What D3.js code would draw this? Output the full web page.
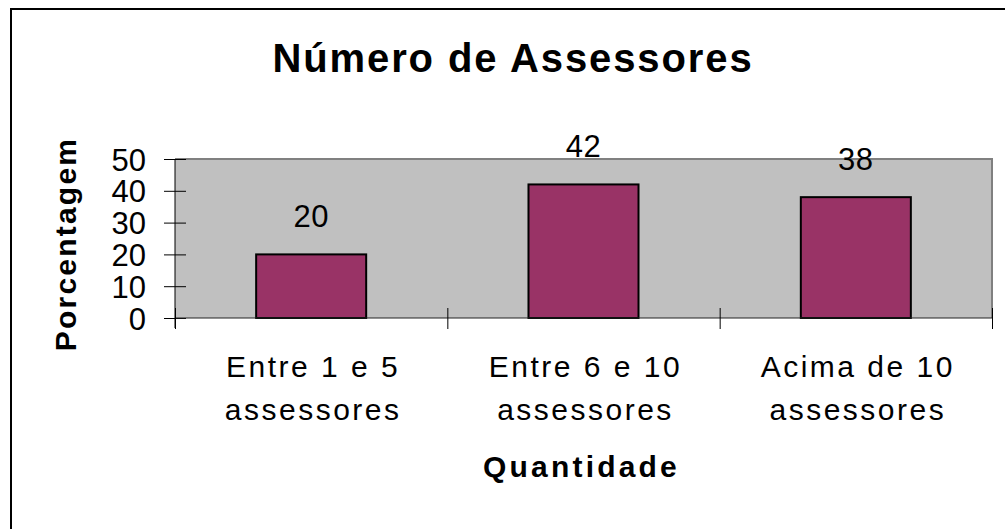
<!DOCTYPE html>
<html>
<head>
<meta charset="utf-8">
<script src="https://cdn.jsdelivr.net/npm/d3@7"></script>
<style>
  body { margin: 0; background: #fff; }
  text { font-family: Arial, "Liberation Sans", sans-serif; fill: #000; }
</style>
</head>
<body>
<div class="chart"></div>
<script>
const categories = [["Entre 1 e 5", "assessores"], ["Entre 6 e 10", "assessores"], ["Acima de 10", "assessores"]];
const values = [20, 42, 38];
const yTicks = [0, 10, 20, 30, 40, 50];

const margin = {top: 159, right: 13, bottom: 211, left: 175},
      width = 1005 - margin.left - margin.right,
      height = 529 - margin.top - margin.bottom;

const svg = d3.select(".chart").append("svg")
    .attr("width", 1005)
    .attr("height", 529);

// outer frame (runs off the right/bottom edge)
svg.append("rect")
    .attr("x", 11).attr("y", 9)
    .attr("width", 1010).attr("height", 540)
    .attr("fill", "none")
    .attr("stroke", "#000")
    .attr("stroke-width", 2);

svg.append("text")
    .attr("x", 513).attr("y", 72)
    .attr("text-anchor", "middle")
    .attr("font-size", 40)
    .attr("font-weight", "bold")
    .attr("letter-spacing", 1.9)
    .text("Número de Assessores");

const g = svg.append("g")
    .attr("transform", "translate(" + margin.left + "," + margin.top + ")");

const x = d3.scaleBand()
    .domain(d3.range(categories.length))
    .range([0, width])
    .paddingInner(0.596)
    .paddingOuter(0.298);

const xEdge = d3.scaleLinear()
    .domain([0, categories.length])
    .range([0, width]);

const y = d3.scaleLinear()
    .domain([0, 50])
    .range([height, 0]);

// plot area
g.append("rect")
    .attr("width", width).attr("height", height)
    .attr("fill", "#c0c0c0");
g.append("path")
    .attr("d", "M0,0H" + width + "V" + height)
    .attr("fill", "none")
    .attr("stroke", "#808080")
    .attr("stroke-width", 2);

// bars
g.selectAll(".bar")
    .data(values)
    .join("rect")
    .attr("class", "bar")
    .attr("x", (d, i) => x(i))
    .attr("y", d => y(d))
    .attr("width", x.bandwidth())
    .attr("height", d => height - y(d))
    .attr("fill", "#993366")
    .attr("stroke", "#000")
    .attr("stroke-width", 2);

g.selectAll(".val")
    .data(values)
    .join("text")
    .attr("class", "val")
    .attr("x", (d, i) => x(i) + x.bandwidth() / 2)
    .attr("y", d => y(d) - 27)
    .attr("text-anchor", "middle")
    .attr("font-size", 31)
    .attr("letter-spacing", 0.5)
    .text(d => d);

// y axis
const yAxis = g.append("g")
    .call(d3.axisLeft(y).tickValues(yTicks).tickSize(22).tickPadding(7));
yAxis.select(".domain").attr("stroke", "#000").attr("d", "M0," + (height + 10) + "V0");
yAxis.selectAll(".tick line").attr("x1", 11).attr("x2", -11).attr("stroke", "#000");
yAxis.selectAll(".tick text")
    .attr("x", -29)
    .attr("font-size", 31)
    .attr("font-family", "Arial, 'Liberation Sans', sans-serif")
    .attr("dy", "0.36em");

// x axis with ticks at category edges
const xAxis = g.append("g")
    .attr("transform", "translate(0," + height + ")")
    .call(d3.axisBottom(xEdge).tickValues(d3.range(categories.length + 1)).tickFormat(""));
xAxis.select(".domain").attr("stroke", "#222").attr("d", "M0,0H" + width);
xAxis.selectAll(".tick line").attr("y1", -10).attr("y2", 11).attr("stroke", "#000");

// category labels
const cat = g.selectAll(".cat")
    .data(categories)
    .join("text")
    .attr("class", "cat")
    .attr("text-anchor", "middle")
    .attr("font-size", 30)
    .attr("letter-spacing", 2.5);
cat.selectAll("tspan")
    .data((d, i) => d.map(s => ({s: s, i: i})))
    .join("tspan")
    .attr("x", d => x(d.i) + x.bandwidth() / 2 + 2)
    .attr("y", (d, j) => height + 59 + j * 43)
    .text(d => d.s);

g.append("text")
    .attr("x", width / 2 - 2)
    .attr("y", height + 159)
    .attr("text-anchor", "middle")
    .attr("font-size", 30)
    .attr("font-weight", "bold")
    .attr("letter-spacing", 3.2)
    .text("Quantidade");

svg.append("text")
    .attr("transform", "translate(76,244) rotate(-90)")
    .attr("text-anchor", "middle")
    .attr("font-size", 30)
    .attr("font-weight", "bold")
    .attr("letter-spacing", 2.2)
    .text("Porcentagem");
</script>
</body>
</html>
